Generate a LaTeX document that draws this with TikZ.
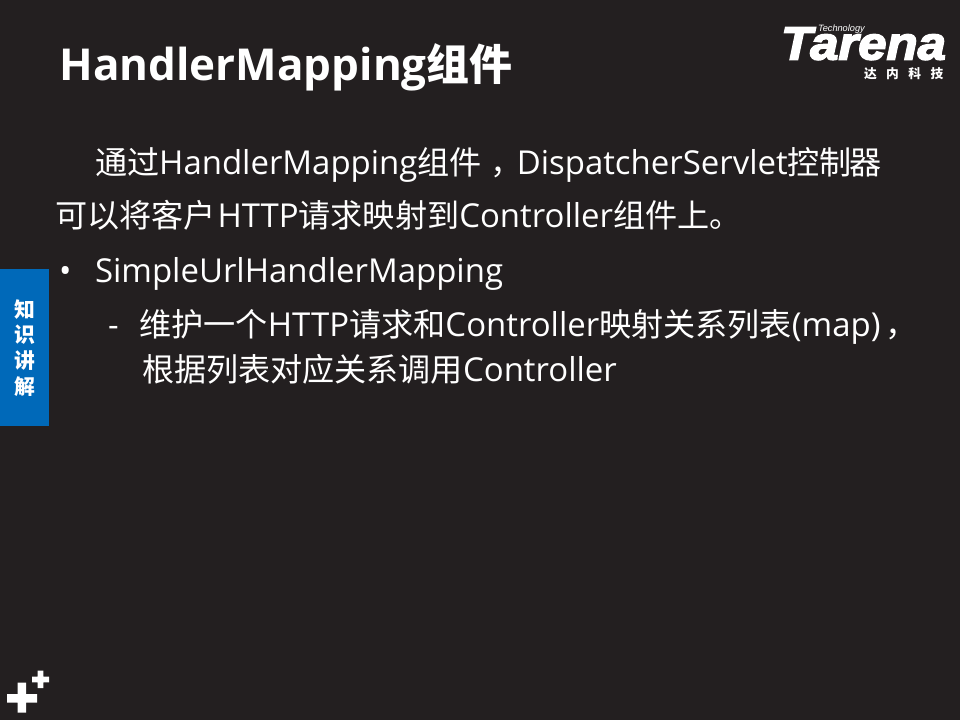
\documentclass[tikz,border=0pt]{standalone}
\usepackage{fontspec}
\setmainfont{Open Sans}
\newfontfamily\cjk[Scale=0.975]{Noto Sans CJK SC}
\newfontfamily\logofont{Liberation Sans}
\newfontfamily\logoheavy[FakeBold=3.5,FakeStretch=1.09]{Liberation Sans Bold Italic}
\newcommand{\zh}[1]{{\cjk #1}}
\definecolor{slidebg}{HTML}{231F20}
\definecolor{tabblue}{HTML}{0069B9}
\begin{document}
\begin{tikzpicture}[x=0.75pt,y=-0.75pt,
    every node/.style={inner sep=0pt,outer sep=0pt,text=white,anchor=base west},
    bodytext/.style={font=\fontsize{24.7}{28}\selectfont},
    tabtext/.style={font=\cjk\bfseries\fontsize{16}{18}\selectfont,anchor=center}]
    \useasboundingbox (0,0) rectangle (960,720);
    \fill[slidebg] (0,0) rectangle (960,720);
    \node (title) at (59.5,81) {\fontsize{33}{36}\selectfont\bfseries HandlerMapping\zh{组件}};
    \begin{scope}[every node/.append style={bodytext}]
        \node (line1) at (95,175) {\zh{通过}HandlerMapping\zh{组件\kern6.5pt，\kern-4.25pt}DispatcherServlet\kern-0.5pt\zh{控制\kern-1pt 器}};
        \node (line2) at (55,228) {\zh{可以将客户}\kern1.5pt HTTP\zh{请求映射到}Controller\zh{组件上。}};
        \node (bullet) at (59,282) {•};
        \node (line3) at (95,282) {SimpleUrlHandlerMapping};
        \node (dash) at (108,336) {-};
        \node (line4) at (139.5,336) {\zh{维护一个}HTTP\zh{请求和}Controller\zh{映射关系列表}(map)\kern4pt\zh{，}};
        \node (line5) at (142,381) {\zh{根据列表对应关系调用}Controller};
    \end{scope}
    % side tab
    \fill[tabblue] (0,269) rectangle (49,426);
    \node[tabtext] (tab1) at (25,310) {知};
    \node[tabtext] (tab2) at (25,335) {识};
    \node[tabtext] (tab3) at (25,361) {讲};
    \node[tabtext] (tab4) at (25,387) {解};
    % logo
    \node (logo) at (781,59.5) {\logoheavy\fontsize{35}{36}\selectfont Tarena};
    \node[font=\logofont\itshape\fontsize{6.9}{7}\selectfont] (logotech) at (818,32) {Technology};
    \node[font=\cjk\bfseries\fontsize{9.8}{12}\selectfont] (logocn) at (864,78.5) {达\kern7.1pt内\kern7.1pt科\kern7.1pt技};
    % plus marks
    \fill[white] (7,694) rectangle (37,702.5) (17.7,682.7) rectangle (26.2,712.7);
    \fill[white] (32,676.7) rectangle (49,682.3) (37.7,670.7) rectangle (43.3,688);
\end{tikzpicture}
\end{document}
